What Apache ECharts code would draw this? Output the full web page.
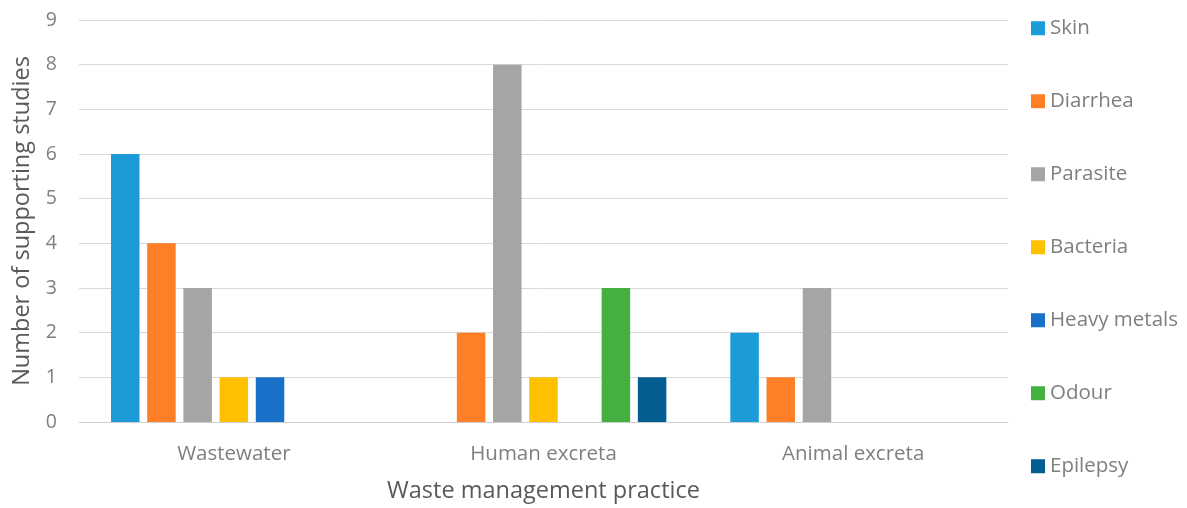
<!DOCTYPE html>
<html><head><meta charset="utf-8">
<script src="https://cdn.jsdelivr.net/npm/echarts@6/dist/echarts.min.js"></script>
<style>html,body{margin:0;padding:0;background:#fff;overflow:hidden}#c{width:1187px;height:508px}</style>
</head><body><div id="c"></div>
<script>
const categories = ["Wastewater", "Human excreta", "Animal excreta"];
const seriesNames = ["Skin", "Diarrhea", "Parasite", "Bacteria", "Heavy metals", "Odour", "Epilepsy"];
const skin = [6, 0, 2];
const diarrhea = [4, 2, 1];
const parasite = [3, 8, 3];
const bacteria = [1, 1, 0];
const heavyMetals = [1, 0, 0];
const odour = [0, 3, 0];
const epilepsy = [0, 1, 0];
const colors = ["#1B9BD7", "#FF7F27", "#A5A5A5", "#FFC000", "#1870C8", "#44B03F", "#055E91"];
const values = [skin, diarrhea, parasite, bacteria, heavyMetals, odour, epilepsy];
const font = "'Open Sans', sans-serif";

const chart = echarts.init(document.getElementById('c'), null, {renderer: 'canvas'});
chart.setOption({
  animation: false,
  textStyle: {fontFamily: font},
  grid: {left: 79, width: 929, top: 20, height: 405, containLabel: false},
  legend: {
    orient: 'vertical', left: 1031, top: 17.75, padding: 0,
    itemWidth: 14, itemHeight: 14, itemGap: 52,
    icon: 'rect',
    textStyle: {fontFamily: font, fontSize: 20.5, color: '#7F7F7F'},
    data: seriesNames
  },
  xAxis: {
    type: 'category', data: categories,
    axisLine: {lineStyle: {color: '#CFCFCF', width: 1}},
    axisTick: {show: false},
    axisLabel: {fontFamily: font, fontSize: 20.5, color: '#7F7F7F', margin: 22},
    name: 'Waste management practice', nameLocation: 'middle', nameGap: 57,
    nameTextStyle: {fontFamily: font, fontSize: 23.5, color: '#595959'}
  },
  yAxis: {
    type: 'value', min: 0, max: 9, interval: 1,
    axisLine: {show: false}, axisTick: {show: false},
    splitLine: {lineStyle: {color: '#D9D9D9', width: 1}},
    axisLabel: {fontFamily: font, fontSize: 19.5, color: '#7F7F7F', margin: 22},
    name: 'Number of supporting studies', nameLocation: 'middle', nameGap: 45, nameRotate: 90,
    nameTextStyle: {fontFamily: font, fontSize: 23.5, color: '#595959'}
  },
  series: seriesNames.map((n, i) => ({
    name: n, type: 'bar', data: values[i],
    barWidth: 28.5, barGap: '27%',
    itemStyle: {color: colors[i]}
  }))
});
</script></body></html>
